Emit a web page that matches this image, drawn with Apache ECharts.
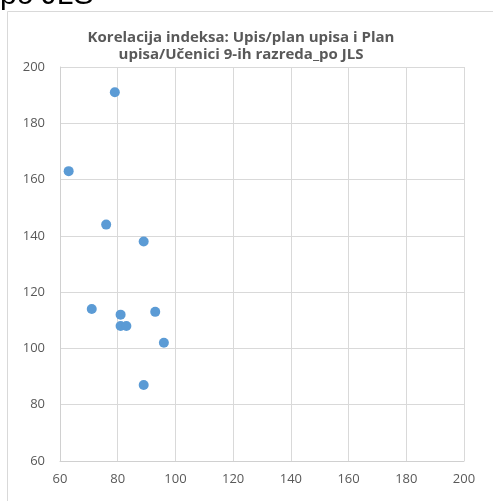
<!DOCTYPE html>
<html><head><meta charset="utf-8">
<script src="https://cdn.jsdelivr.net/npm/echarts@6/dist/echarts.min.js"></script>
<style>html,body{margin:0;padding:0;background:#fff}#c{width:493px;height:501px}</style>
</head><body><div id="c"></div>
<script>
const titleLines = ['Korelacija indeksa: Upis/plan upisa i Plan', 'upisa/Učenici 9-ih razreda_po JLS'];
const topFragment = 'po JLS';
const xValues = [79, 63, 76, 89, 71, 81, 93, 81, 83, 96, 89];
const yValues = [191, 163, 144, 138, 114, 112, 113, 108, 108, 102, 87];
const xTicks = [60, 80, 100, 120, 140, 160, 180, 200];
const yTicks = [60, 80, 100, 120, 140, 160, 180, 200];

const chart = echarts.init(document.getElementById('c'));
chart.setOption({
  animation: false,
  backgroundColor: '#fff',
  title: {
    text: titleLines.join('\n'),
    left: 236, textAlign: 'center', top: 24,
    textStyle: {fontFamily: 'Open Sans', fontSize: 15, fontWeight: 'bold', color: '#595959', lineHeight: 17}
  },
  graphic: [
    {type: 'rect', shape: {x: 7.5, y: 11.5, width: 490, height: 500}, style: {fill: 'none', stroke: '#d9d9d9', lineWidth: 1}},
    {type: 'text', left: 0, top: -19, style: {text: topFragment, font: '30px "Liberation Sans"', fill: '#000'}}
  ],
  grid: {left: 60, right: 29, top: 67, bottom: 40},
  xAxis: {
    type: 'value', min: xTicks[0], max: xTicks[xTicks.length-1], interval: 20,
    axisLine: {show: true, lineStyle: {color: '#d0d0d0'}},
    axisTick: {show: false},
    splitLine: {lineStyle: {color: '#d9d9d9'}},
    axisLabel: {color: '#595959', fontSize: 13, fontFamily: 'Open Sans', margin: 12}
  },
  yAxis: {
    type: 'value', min: yTicks[0], max: yTicks[yTicks.length-1], interval: 20,
    axisLine: {show: true, lineStyle: {color: '#d0d0d0'}},
    axisTick: {show: false},
    splitLine: {lineStyle: {color: '#d9d9d9'}},
    axisLabel: {color: '#595959', fontSize: 13, fontFamily: 'Open Sans', margin: 15}
  },
  series: [{
    type: 'scatter', symbolSize: 10,
    itemStyle: {color: '#5b9bd5', opacity: 1},
    data: xValues.map((x, i) => [x, yValues[i]])
  }]
});
</script></body></html>
